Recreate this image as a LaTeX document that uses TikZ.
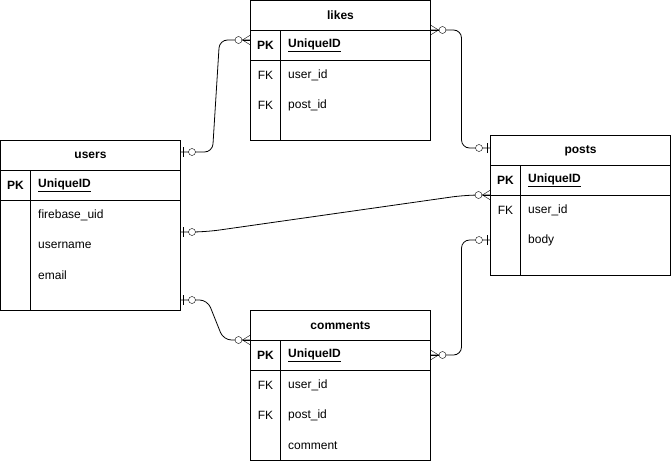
\documentclass[tikz,border=0pt]{standalone}
\usepackage{fontspec}
\setmainfont{Liberation Sans}
\usetikzlibrary{positioning}
\begin{document}
\begin{tikzpicture}[x=1pt, y=-1pt,
    txt/.style={inner sep=0pt, font=\fontsize{12}{14}\selectfont},
    title/.style={txt, font=\fontsize{12}{14}\selectfont\bfseries},
    key/.style={txt, font=\fontsize{12}{14}\selectfont\bfseries},
    fkey/.style={txt},
    field/.style={txt, anchor=west},
    pkfield/.style={field, font=\fontsize{12}{14}\selectfont\bfseries},
    link/.style={line width=0.8pt, rounded corners=8pt},
    onezero/.pic={\draw (3,-5) -- (3,5); \draw[fill=white] (11.5,0) circle (3.5pt);},
    manyzero/.pic={\draw (0,-5) -- (8,0) -- (0,5); \draw (0,0) -- (8,0);
                   \draw[fill=white] (12,0) circle (3.5pt);}]
    \useasboundingbox (0,0) rectangle (671,461);

    % users table
    \draw (0.5,140.5) rectangle (180.5,310.5);
    \draw (0.5,170.5) -- (180.5,170.5);
    \draw (0.5,200.5) -- (180.5,200.5);
    \draw (30.5,170.5) -- (30.5,310.5);
    \node[title] (users) at (90.5,155.5) {users};
    \node[key] (usersPK) at (15.5,185.5) {PK};
    \node[pkfield] (usersID) at (38,185.5) {\underline{UniqueID}};
    \node[field] (usersUid) at (38,215.5) {firebase\_uid};
    \node[field] (usersName) at (38,245.5) {username};
    \node[field] (usersMail) at (38,275.5) {email};

    % likes table
    \draw (250.5,0.5) rectangle (430.5,140.5);
    \draw (250.5,30.5) -- (430.5,30.5);
    \draw (250.5,60.5) -- (430.5,60.5);
    \draw (280.5,30.5) -- (280.5,140.5);
    \node[title] (likes) at (340.5,15.5) {likes};
    \node[key] (likesPK) at (265.5,45.5) {PK};
    \node[pkfield] (likesID) at (288,45.5) {\underline{UniqueID}};
    \node[fkey] (likesFK1) at (265.5,75.5) {FK};
    \node[field] (likesUser) at (288,75.5) {user\_id};
    \node[fkey] (likesFK2) at (265.5,105.5) {FK};
    \node[field] (likesPost) at (288,105.5) {post\_id};

    % posts table
    \draw (490.5,135.5) rectangle (670.5,275.5);
    \draw (490.5,165.5) -- (670.5,165.5);
    \draw (490.5,195.5) -- (670.5,195.5);
    \draw (520.5,165.5) -- (520.5,275.5);
    \node[title] (posts) at (580.5,150.5) {posts};
    \node[key] (postsPK) at (505.5,180.5) {PK};
    \node[pkfield] (postsID) at (528,180.5) {\underline{UniqueID}};
    \node[fkey] (postsFK) at (505.5,210.5) {FK};
    \node[field] (postsUser) at (528,210.5) {user\_id};
    \node[field] (postsBody) at (528,240.5) {body};

    % comments table
    \draw (250.5,310.5) rectangle (430.5,460.5);
    \draw (250.5,340.5) -- (430.5,340.5);
    \draw (250.5,370.5) -- (430.5,370.5);
    \draw (280.5,340.5) -- (280.5,460.5);
    \node[title] (comments) at (340.5,325.5) {comments};
    \node[key] (commentsPK) at (265.5,355.5) {PK};
    \node[pkfield] (commentsID) at (288,355.5) {\underline{UniqueID}};
    \node[fkey] (commentsFK1) at (265.5,385.5) {FK};
    \node[field] (commentsUser) at (288,385.5) {user\_id};
    \node[fkey] (commentsFK2) at (265.5,415.5) {FK};
    \node[field] (commentsPost) at (288,415.5) {post\_id};
    \node[field] (commentsText) at (288,445.5) {comment};

    % connector ends on the table edges
    \coordinate (usersA) at (180.5,152);
    \coordinate (usersB) at (180.5,232);
    \coordinate (usersC) at (180.5,300);
    \coordinate (likesA) at (250.5,40);
    \coordinate (likesB) at (430.5,30);
    \coordinate (postsA) at (490.5,148);
    \coordinate (postsB) at (490.5,195);
    \coordinate (postsC) at (490.5,240);
    \coordinate (commentsA) at (250.5,340);
    \coordinate (commentsB) at (430.5,355);

    % relations
    \draw[link] (usersA) -- ++(32,0) -- ([xshift=-31]likesA) -- (likesA);
    \draw[link] (likesB) -- ++(31,0) |- (postsA);
    \draw[link, rounded corners=14pt] (usersB) -- ++(25,0) -- ([xshift=-25]postsB) -- (postsB);
    \draw[link] (usersC) -- ++(27,0) -- ([xshift=-27]commentsA) -- (commentsA);
    \draw[link] (commentsB) -- ++(31,0) |- (postsC);

    % markers
    \pic at (usersA) {onezero};
    \pic at (usersB) {onezero};
    \pic at (usersC) {onezero};
    \pic[rotate=180] at (postsA) {onezero};
    \pic[rotate=180] at (postsC) {onezero};
    \pic[rotate=180] at (likesA) {manyzero};
    \pic at (likesB) {manyzero};
    \pic[rotate=180] at (postsB) {manyzero};
    \pic[rotate=180] at (commentsA) {manyzero};
    \pic at (commentsB) {manyzero};
\end{tikzpicture}
\end{document}
